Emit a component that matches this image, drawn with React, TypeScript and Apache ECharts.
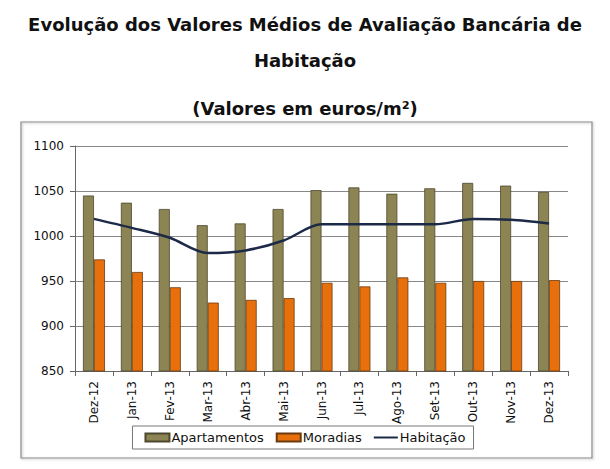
import React, { useEffect, useRef } from "react";
import * as echarts from "echarts";

const categories = ["Dez-12", "Jan-13", "Fev-13", "Mar-13", "Abr-13", "Mai-13", "Jun-13", "Jul-13", "Ago-13", "Set-13", "Out-13", "Nov-13", "Dez-13"];
const apartamentos = [1045, 1037, 1030, 1012, 1014, 1030, 1051, 1054, 1047, 1053, 1059, 1056, 1049];
const moradias = [974, 960, 943, 926, 929, 931, 948, 944, 954, 948, 950, 950, 951];
const habitacao = [1019, 1009, 998, 981, 984, 995, 1013, 1013, 1013, 1013, 1019, 1018, 1014];
const titleLine1 = "Evolução dos Valores Médios de Avaliação Bancária de";
const titleLine2 = "Habitação";
const titleLine3 = "(Valores em euros/m²)";

export default function App() {
  const ref = useRef<HTMLDivElement>(null);
  useEffect(() => {
    document.body.style.margin = "0";
    const chart = echarts.init(ref.current!, null, { renderer: "svg" });
    const font = "DejaVu Sans";
    const titleStyle = { fontFamily: font, fontSize: 18, fontWeight: "bold", color: "#111" };
    chart.setOption({
      animation: false,
      backgroundColor: "#ffffff",
      textStyle: { fontFamily: font },
      title: [
        { text: titleLine1, left: "center", top: 10, textStyle: titleStyle },
        { text: titleLine2, left: "center", top: 46, textStyle: titleStyle },
        { text: titleLine3, left: "center", top: 94, textStyle: titleStyle },
      ],
      graphic: [
        {
          type: "rect",
          shape: { x: 21, y: 122, width: 571, height: 336 },
          style: { fill: "none", stroke: "#8a8a8a", lineWidth: 1.2, shadowColor: "rgba(0,0,0,0.25)", shadowBlur: 2, shadowOffsetX: 1, shadowOffsetY: 1 },
          z: -1,
        },
      ],
      grid: { left: 75, right: 610 - 568, top: 146, bottom: 469 - 371, containLabel: false },
      legend: {
        bottom: 469 - 449,
        left: "center",
        itemWidth: 24,
        itemHeight: 8,
        itemGap: 12,
        borderColor: "#777",
        borderWidth: 1,
        padding: [5, 8, 5, 12],
        symbolKeepAspect: true,
        textStyle: { fontFamily: font, fontSize: 13, color: "#111", padding: [0, 0, 0, -3] },
        data: [
          { name: "Apartamentos", icon: "rect" },
          { name: "Moradias", icon: "rect" },
          { name: "Habitação", icon: "path://M0,0 L24,0 L24,2 L0,2 Z" },
        ],
      },
      xAxis: {
        type: "category",
        data: categories,
        axisLine: { lineStyle: { color: "#666", width: 1 } },
        axisTick: { show: true, inside: false, length: 5, lineStyle: { color: "#666" } },
        axisLabel: { rotate: 90, fontFamily: font, fontSize: 12, color: "#111", margin: 10 },
      },
      yAxis: {
        type: "value",
        min: 850,
        max: 1100,
        interval: 50,
        axisLine: { show: true, lineStyle: { color: "#666", width: 1 } },
        axisTick: { show: true, inside: false, length: 5, lineStyle: { color: "#666" } },
        axisLabel: { fontFamily: font, fontSize: 12, color: "#111", margin: 11, formatter: (v: number) => String(v) },
        splitLine: { lineStyle: { color: "#888", width: 1 } },
      },
      series: [
        {
          name: "Apartamentos",
          type: "bar",
          data: apartamentos,
          barWidth: 11,
          barGap: "0%",
          itemStyle: { color: "#8c8452", borderColor: "#4d4830", borderWidth: 0.8 },
        },
        {
          name: "Moradias",
          type: "bar",
          data: moradias,
          barWidth: 11,
          barGap: "0%",
          itemStyle: { color: "#e8700c", borderColor: "#6a3a10", borderWidth: 0.8 },
        },
        {
          name: "Habitação",
          type: "line",
          data: habitacao,
          smooth: 0.3,
          symbol: "none",
          lineStyle: { color: "#1c2a48", width: 2.5 },
          itemStyle: { color: "#1c2a48" },
          z: 5,
        },
      ],
    });
    return () => chart.dispose();
  }, []);
  return <div ref={ref} style={{ width: 610, height: 469 }} />;
}
